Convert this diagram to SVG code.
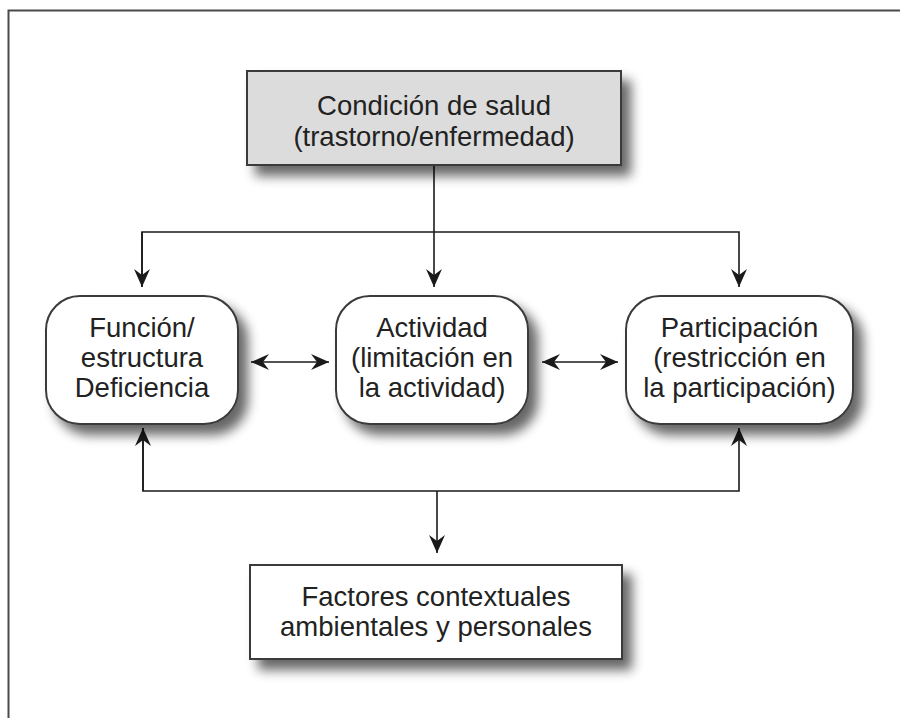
<svg xmlns="http://www.w3.org/2000/svg" width="900" height="718" viewBox="0 0 900 718">
  <defs>
    <filter id="shadow" x="-20%" y="-20%" width="150%" height="170%">
      <feGaussianBlur in="SourceAlpha" stdDeviation="6" result="b"/>
      <feOffset in="b" dx="9" dy="10" result="o"/>
      <feComponentTransfer in="o" result="s">
        <feFuncA type="linear" slope="0.6"/>
      </feComponentTransfer>
      <feMerge>
        <feMergeNode in="s"/>
        <feMergeNode in="SourceGraphic"/>
      </feMerge>
    </filter>
    <marker id="arrow" viewBox="-19 -9 21 18" refX="0" refY="0" markerWidth="21" markerHeight="18" markerUnits="userSpaceOnUse" orient="auto-start-reverse">
      <path d="M0,0 L-18,-8 L-12,0 L-18,8 Z" fill="#1a1a1a"/>
    </marker>
  </defs>
  <style>
    .frame { fill: none; stroke: #4a4a4a; stroke-width: 2; }
    .box { stroke: #3a3a3a; stroke-width: 2; }
    .conn { fill: none; stroke: #1a1a1a; stroke-width: 1.6; }
    .lbl { font-family: "Liberation Sans", Arial, Helvetica, sans-serif; font-size: 27.5px; fill: #222; text-anchor: middle; }
  </style>
  <rect x="0" y="0" width="900" height="718" fill="#ffffff"/>
  <path class="frame" d="M8.5,718 V10.5 H900"/>

  <g id="connectors">
    <line class="conn" x1="434" y1="165" x2="434" y2="287" marker-end="url(#arrow)"/>
    <polyline class="conn" points="142,287 142,232 739,232 739,287" marker-end="url(#arrow)"/>
    <line class="conn" x1="142" y1="232" x2="142" y2="287" marker-end="url(#arrow)"/>
    <line class="conn" x1="251" y1="362" x2="329" y2="362" marker-start="url(#arrow)" marker-end="url(#arrow)"/>
    <line class="conn" x1="542" y1="362" x2="618" y2="362" marker-start="url(#arrow)" marker-end="url(#arrow)"/>
    <polyline class="conn" points="143,428 143,491 739,491 739,428" marker-end="url(#arrow)"/>
    <line class="conn" x1="143" y1="491" x2="143" y2="428" marker-end="url(#arrow)"/>
    <line class="conn" x1="437" y1="491" x2="437" y2="553" marker-end="url(#arrow)"/>
  </g>

  <g id="condicion">
    <rect class="box" x="247" y="71" width="374" height="94" fill="#dcdcdc" filter="url(#shadow)"/>
    <text class="lbl" x="434" y="115">Condición de salud</text>
    <text class="lbl" x="434" y="146">(trastorno/enfermedad)</text>
  </g>

  <g id="funcion">
    <rect class="box" x="46" y="296" width="192" height="128" rx="34" ry="34" fill="#ffffff" filter="url(#shadow)"/>
    <text class="lbl" x="142" y="337">Función/</text>
    <text class="lbl" x="142" y="367">estructura</text>
    <text class="lbl" x="142" y="397">Deficiencia</text>
  </g>

  <g id="actividad">
    <rect class="box" x="336" y="296" width="192" height="128" rx="34" ry="34" fill="#ffffff" filter="url(#shadow)"/>
    <text class="lbl" x="432" y="337">Actividad</text>
    <text class="lbl" x="432" y="367">(limitación en</text>
    <text class="lbl" x="432" y="397">la actividad)</text>
  </g>

  <g id="participacion">
    <rect class="box" x="626" y="296" width="227" height="128" rx="34" ry="34" fill="#ffffff" filter="url(#shadow)"/>
    <text class="lbl" x="739.5" y="337">Participación</text>
    <text class="lbl" x="739.5" y="367">(restricción en</text>
    <text class="lbl" x="739.5" y="397">la participación)</text>
  </g>

  <g id="factores">
    <rect class="box" x="250" y="565" width="372" height="94" fill="#ffffff" filter="url(#shadow)"/>
    <text class="lbl" x="436" y="606">Factores contextuales</text>
    <text class="lbl" x="436" y="636">ambientales y personales</text>
  </g>
</svg>
